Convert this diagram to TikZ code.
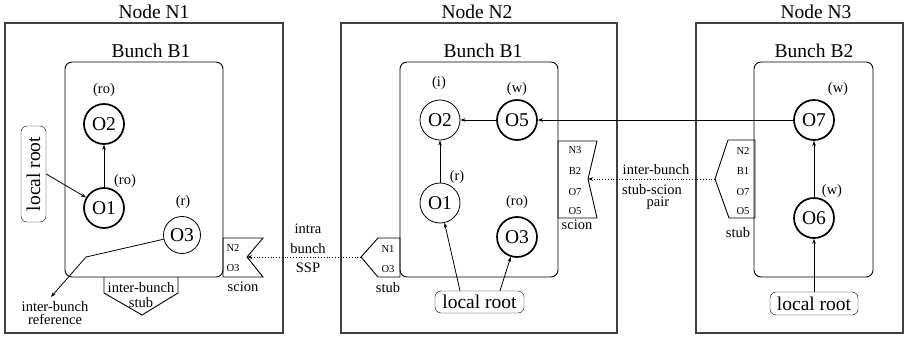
\documentclass[tikz,border=0pt]{standalone}
\usepackage{fontspec}
\setmainfont{Liberation Serif}
\usetikzlibrary{arrows.meta}
\tikzset{
  big/.style={font=\fontsize{19.5}{22}\selectfont},
  smalltxt/.style={font=\fontsize{14.5}{16}\selectfont},
  tinytxt/.style={font=\fontsize{10.6}{12}\selectfont},
  lbl/.style={anchor=base, inner sep=0pt},
  obj/.style={circle, draw, minimum size=40pt, inner sep=0pt, line width=0.8pt, big},
  objthick/.style={obj, line width=1.7pt},
  nodebox/.style={draw=black!75, line width=1.1pt, minimum width=#1, inner sep=0pt, minimum height=310pt},
  bunchbox/.style={draw, rounded corners=7pt, line width=0.9pt, minimum width=#1, minimum height=215pt, inner sep=0pt},
  root/.style={draw, rounded corners=6pt, big, inner sep=0pt, minimum width=89pt, minimum height=22pt},
  arr/.style={-{Stealth[length=5pt,width=3.6pt,inset=1.5pt]}, line width=0.8pt},
  ssp/.style={arr, dotted, line width=0.9pt},
  tag/.style={draw, line width=0.9pt, line join=miter},
}
\begin{document}
\begin{tikzpicture}[x=1pt,y=-1pt]
\useasboundingbox (0,0) rectangle (904,339);
% node boxes
\node[nodebox=278pt] (n1) at (144,178) {};
\node[nodebox=276pt] (n2) at (479,178) {};
\node[nodebox=207pt] (n3) at (799.5,178) {};
\node[big,lbl] (t1) at (154,18.3) {Node N1};
\node[big,lbl] (t2) at (477,18.3) {Node N2};
\node[big,lbl] (t3) at (816,18.3) {Node N3};
% bunches
\node[bunchbox=158pt] (b1) at (144,169.5) {};
\node[bunchbox=158pt] (b2) at (479,169.5) {};
\node[bunchbox=119pt] (b3) at (813.5,169.5) {};
\node[big,lbl] (bt1) at (151,57.3) {Bunch B1};
\node[big,lbl] (bt2) at (483,57.3) {Bunch B1};
\node[big,lbl] (bt3) at (814,57.3) {Bunch B2};

% ---- Node N1
\node[objthick] (o12) at (104,124) {O2};
\node[objthick] (o11) at (104,208) {O1};
\node[obj, minimum size=37pt] (o13) at (182,235) {O3};
\node[smalltxt,lbl] (a12) at (104,94) {(ro)};
\node[smalltxt,lbl] (a11) at (125,185) {(ro)};
\node[smalltxt,lbl] (a13) at (183,205) {(r)};
\node[root, rotate=90, minimum width=96pt, minimum height=25pt] (lr1) at (33.5,174) {local root};
\draw[arr] (lr1.south) -- (o11);
\draw[arr] (o11) -- (o12);
\coordinate (bend1) at (86,257);
\coordinate (iref) at (51,297);
\draw[arr] (o13) -- (bend1) -- (iref);
\node[smalltxt,lbl] (ir1) at (55,311) {inter-bunch};
\node[smalltxt,lbl] (ir2) at (55,324) {reference};
% inter-bunch stub
\draw[tag] (104,277) -- (104,293) -- (142,315) -- (178,293) -- (178,277);
\node[smalltxt,lbl] (ibs1) at (141,292) {inter-bunch};
\node[smalltxt,lbl] (ibs2) at (141,307) {stub};
% scion N1
\draw[tag] (223,238) -- (263,238) -- (247,257) -- (263,277) -- (223,277) -- cycle;
\coordinate (sc1) at (247,257);
\node[tinytxt,lbl] (sc1a) at (233,251) {N2};
\node[tinytxt,lbl] (sc1b) at (233,271) {O3};
\node[smalltxt,lbl] (sc1l) at (243,291) {scion};

% intra bunch SSP
\node[smalltxt,lbl] (ssp1) at (308,233) {intra};
\node[smalltxt,lbl] (ssp2) at (308,253) {bunch};
\node[smalltxt,lbl] (ssp3) at (308,272) {SSP};

% ---- Node N2
\draw[tag] (400,238) -- (378,238) -- (361,257) -- (378,277) -- (400,277) -- cycle;
\coordinate (st2) at (361,257);
\node[tinytxt,lbl] (st2a) at (388,252) {N1};
\node[tinytxt,lbl] (st2b) at (388,272) {O3};
\node[smalltxt,lbl] (st2l) at (388,292) {stub};
\draw[ssp] (st2) -- (sc1);

\node[obj] (o22) at (440,120) {O2};
\node[objthick] (o25) at (517,120) {O5};
\node[obj] (o21) at (440,203) {O1};
\node[objthick] (o23) at (517,237) {O3};
\node[smalltxt,lbl] (a22) at (439,87) {(i)};
\node[smalltxt,lbl] (a25) at (517,93) {(w)};
\node[smalltxt,lbl] (a21) at (457,180) {(r)};
\node[smalltxt,lbl] (a23) at (517,205) {(ro)};
\node[root] (lr2) at (479.5,302) {local root};
\draw[arr] ([xshift=-19.5pt]lr2.north) -- (o21);
\draw[arr] ([xshift=20.5pt]lr2.north) -- (o23);
\draw[arr] (o25) -- (o22);
\draw[arr] (o21) -- (o22);
% scion N2
\draw[tag] (558,141) -- (597,141) -- (588,179) -- (597,218) -- (558,218) -- cycle;
\coordinate (sc2) at (588,179);
\node[tinytxt,lbl] (sc2a) at (575,154) {N3};
\node[tinytxt,lbl] (sc2b) at (575,175) {B2};
\node[tinytxt,lbl] (sc2c) at (575,195) {O7};
\node[tinytxt,lbl] (sc2d) at (575,214) {O5};
\node[smalltxt,lbl] (sc2l) at (577,229) {scion};

% inter-bunch stub-scion pair
\node[smalltxt,lbl] (p1) at (656,175) {inter-bunch};
\node[smalltxt,lbl] (p2) at (652,194) {stub-scion};
\node[smalltxt,lbl] (p3) at (658,207) {pair};

% ---- Node N3
\draw[tag] (755,140) -- (728,140) -- (715,179) -- (729,218) -- (755,218) -- cycle;
\coordinate (st3) at (715,179);
\node[tinytxt,lbl] (st3a) at (743,155) {N2};
\node[tinytxt,lbl] (st3b) at (743,175) {B1};
\node[tinytxt,lbl] (st3c) at (743,195) {O7};
\node[tinytxt,lbl] (st3d) at (743,214) {O5};
\node[smalltxt,lbl] (st3l) at (738,237) {stub};
\draw[ssp] (st3) -- (sc2);

\node[objthick] (o37) at (814,120) {O7};
\node[objthick] (o36) at (814,218) {O6};
\node[smalltxt,lbl] (a37) at (838,93) {(w)};
\node[smalltxt,lbl] (a36) at (832,194) {(w)};
\node[root, minimum width=88pt, minimum height=23pt] (lr3) at (814,303.5) {local root};
\draw[arr] (lr3) -- (o36);
\draw[arr] (o36) -- (o37);
\draw[arr] (o37) -- (o25);
\end{tikzpicture}
\end{document}
